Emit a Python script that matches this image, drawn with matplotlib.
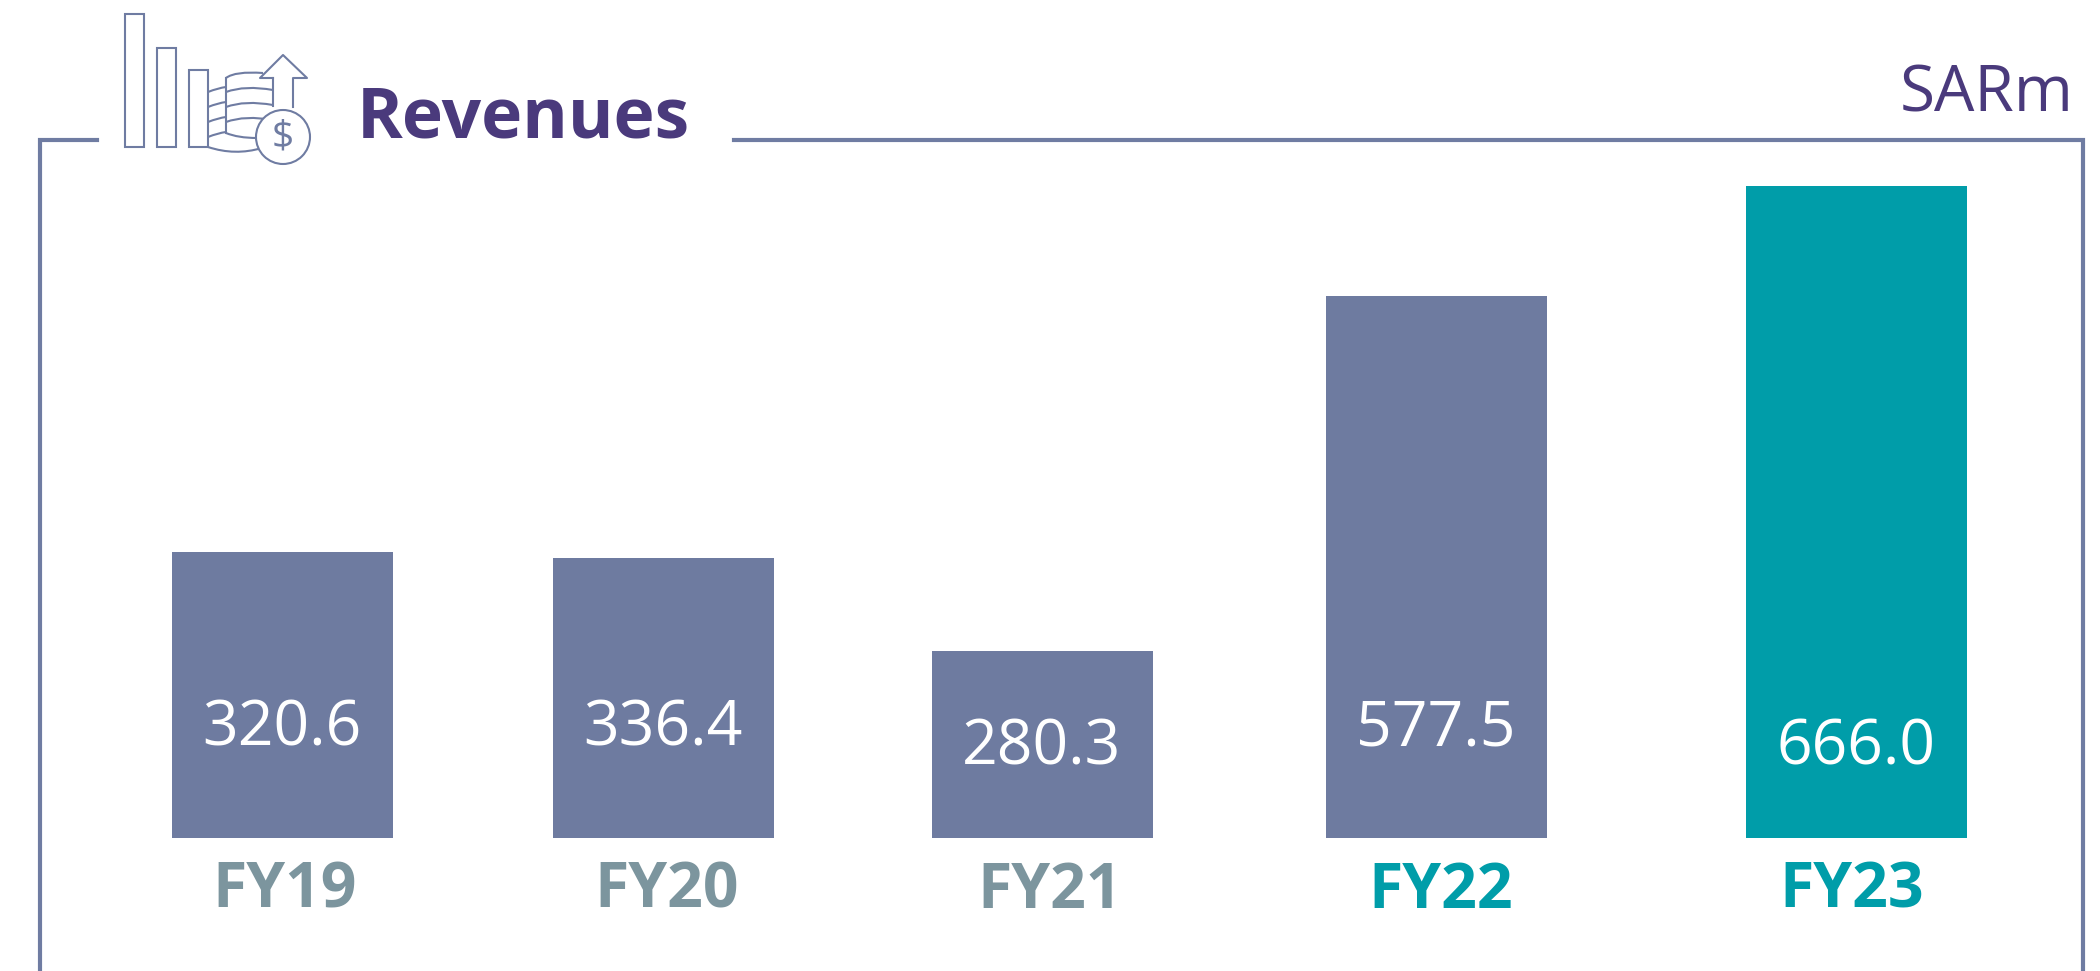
import matplotlib
matplotlib.use('Agg')
import matplotlib.pyplot as plt
from matplotlib.patches import Ellipse, PathPatch, Rectangle
from matplotlib.path import Path

years = ['FY19', 'FY20', 'FY21', 'FY22', 'FY23']
value_labels = ['320.6', '336.4', '280.3', '577.5', '666.0']
# the bars are not to scale with the printed numbers, so heights are read off the picture
bar_heights = [286, 280, 187, 542, 652]
bar_centers = [282, 663, 1042, 1436, 1856]
year_centers = [285, 667, 1050, 1441, 1852]
label_heights = [109, 109, 90, 109, 90]

FRAME = '#6f7ca2'
BLUE = '#6e7ba0'
TEAL = '#009da9'
PURPLE = '#4a3a7c'
GREY = '#7c959e'

plt.rcParams['font.family'] = ['Open Sans', 'DejaVu Sans']

fig = plt.figure(figsize=(21, 9.71), dpi=100)
ax = fig.add_axes([0, 0, 1, 1])
ax.set_xlim(0, 2100)
ax.set_ylim(971, 0)
ax.axis('off')

baseline = 838
ax.bar(bar_centers, [-h for h in bar_heights], width=221, bottom=baseline,
       color=[BLUE, BLUE, BLUE, BLUE, TEAL])

for x, h, lab in zip(bar_centers, label_heights, value_labels):
    ax.text(x, baseline - h, lab, color='white', fontsize=45, ha='center', va='center')

year_colors = [GREY, GREY, GREY, TEAL, TEAL]
for x, lab, c in zip(year_centers, years, year_colors):
    ax.text(x, 891, lab, color=c, fontsize=45, fontweight='bold', ha='center', va='center')

# frame, open at the title and running off the bottom
ax.plot([40, 40, 97], [971, 140, 140], color=FRAME, lw=3, solid_joinstyle='miter')
ax.plot([734, 2083, 2083], [140, 140, 971], color=FRAME, lw=3, solid_joinstyle='miter')

ax.text(357, 119, 'Revenues', color=PURPLE, fontsize=50, fontweight='bold', ha='left', va='center')
ax.text(2074, 94, 'SARm', color=PURPLE, fontsize=46, ha='right', va='center')


def curve(p0, p1, p2):
    ax.add_patch(PathPatch(Path([p0, p1, p2], [Path.MOVETO, Path.CURVE3, Path.CURVE3]),
                           fill=False, edgecolor=FRAME, lw=1.5))


# icon
icon = dict(fill=False, edgecolor=FRAME, lw=1.5)
ax.add_patch(Rectangle((125, 14), 19, 133, **icon))
ax.add_patch(Rectangle((157, 48), 19, 99, **icon))
ax.add_patch(Rectangle((189, 70), 19, 77, **icon))
# arrow
ax.plot([273, 260, 283, 307, 293, 293], [78, 78, 55, 78, 78, 107], color=FRAME, lw=1.5)
ax.plot([273, 273], [78, 106], color=FRAME, lw=1.5)
# back stack of coins
for y in [92, 107, 122, 137]:
    curve((208, y), (218, y - 4), (226, y - 5))
curve((208, 147), (235, 156), (262, 148))
# front stack of coins
ax.plot([226, 226], [78, 133], color=FRAME, lw=1.5)
curve((226, 78), (235, 71), (263, 73))
for y in [92, 107, 122]:
    curve((226, y), (245, y - 7), (273, y - 2))
curve((226, 133), (238, 138), (257, 138))
ax.add_patch(Ellipse((283, 137), 54, 54, facecolor='white', edgecolor=FRAME, lw=1.5, zorder=3))
ax.text(283, 137, '$', color=FRAME, fontsize=28, ha='center', va='center', zorder=4)

fig.savefig('out.png', dpi=100, facecolor='white')
